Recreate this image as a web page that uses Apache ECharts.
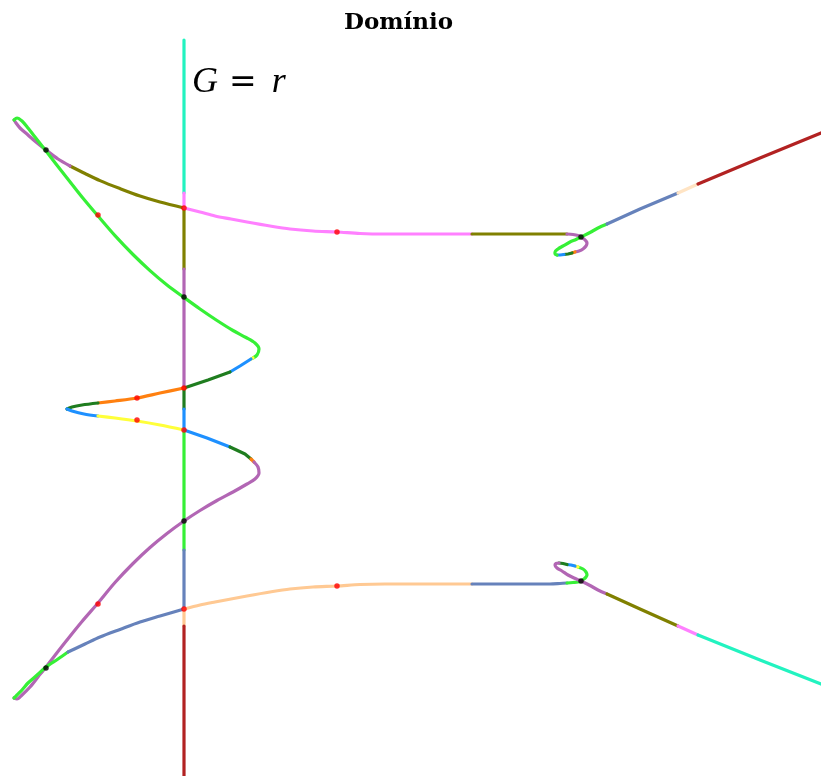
<!DOCTYPE html>
<html>
<head>
<meta charset="utf-8">
<style>
  html, body { margin: 0; padding: 0; background: #ffffff; }
  #chart { width: 821px; height: 776px; }
</style>
<script src="https://cdn.jsdelivr.net/npm/echarts@6/dist/echarts.min.js"></script>
</head>
<body>
<div id="chart"></div>
<script>
// Branches of the curve, in plot units (x to the right, y downward).
// Vertical branch along x = 184
const vCyan    = [[184,40],[184,193]];
const vPink    = [[184,193],[184,208]];
const vOlive   = [[184,208],[184,269]];
const vPurple  = [[184,269],[184,388]];
const vDkGreen = [[184,388],[184,409]];
const vBlue    = [[184,409],[184,430]];
const vGreen   = [[184,430],[184,550]];
const vSlate   = [[184,550],[184,609]];
const vPeach   = [[184,609],[184,626]];
const vBrick   = [[184,626],[184,776]];

// Upper-left loop
const ulOlive  = [[184,208],[160,202],[140,196],[120,188.6],[100,180.6],[85,173.5],[70,166]];
const ulPurple = [[70,166],[58,159],[46,150],[36,142],[28,135],[20,128],[16,123],[14,120]];
const ulGreen  = [[14,120],[17,118],[22,121],[28,128],[35,137],[46,151],[56,164],[67,178],[82,197],[98,216],[115,235.6],[133,254.5],[150,270.6],[167,285],[184,297.5],[200,309],[217,320.5],[233,330.5],[246,337.5],[255,343],[259,349],[257,355],[253,358]];
const ulYellow = [[253,358],[251,359]];
const ulBlue   = [[251,359],[240,366],[230,372]];
const ulDkGreen= [[230,372],[208,380],[184,388]];

// Middle loop
const mOrange  = [[184,388],[160,393],[137,398],[115,401],[98,403]];
const mDkGreen = [[98,403],[82,405],[72,407],[67,409]];
const mBlue    = [[67,409],[72,411],[84,414],[98,416]];
const mYellow  = [[98,416],[115,418],[137,421],[160,425],[184,430]];

// Lower-left loop
const llBlue   = [[184,430],[207,438],[230,447]];
const llDkGreen= [[230,447],[245,454],[251,459]];
const llOrange = [[251,459],[254,462]];
const llPurple = [[254,462],[258,467],[259,473],[255,479],[247,484],[233,492],[217,500.5],[200,510.5],[184,521],[167,533.5],[150,547.5],[133,563.5],[115,582.5],[98,603],[82,621.5],[67,640],[56,654],[46,667],[38,677],[30,687],[22,695],[17,699],[14,698]];
const llGreen  = [[14,698],[17,695],[22,690],[28,683],[36,676],[46,667],[58,659],[68,652]];
const llSlate  = [[68,652],[85,644],[100,637],[120,629.4],[140,622],[160,616],[184,609]];

// Upper-right branch
const urPink   = [[184,208],[200,212],[215,216],[231,219],[247,222],[270,226],[290,229],[313,231],[337,232],[360,233.5],[385,234],[413,234],[440,234],[472,234]];
const urOlive  = [[472,234],[500,234],[530,234],[550,234],[567,234]];
const urPurple = [[567,234],[573,234.5],[578,235.5],[581,237],[584,239],[586,241],[587,243],[586,246],[583,249],[579,251],[575,252]];
const urOrange = [[575,252],[572,253]];
const urDkGreen= [[572,253],[568,254],[564,254.5]];
const urBlue   = [[564,254.5],[560,255],[557,255]];
const urGreen  = [[557,255],[555,254],[555,252],[558,249],[563,246],[570,242],[576,239.5],[581,237],[590,232.5],[598,228],[607,224]];
const urSlate  = [[607,224],[640,209],[678,193]];
const urBisque = [[678,193],[698,184]];
const urBrick  = [[698,184],[760,158],[821,133]];

// Lower-right branch
const lrPeach  = [[184,609],[200,605],[215,602],[231,599],[247,596],[270,592],[290,589],[313,587],[337,586],[360,584.5],[385,584],[413,584],[440,584],[472,584]];
const lrSlate  = [[472,584],[500,584],[530,584],[550,584],[560,583.5],[567,583]];
const lrGreen  = [[567,583],[573,582.5],[578,582],[581,581],[584,579],[586,577],[587,575],[586,572],[583,569],[578,567]];
const lrYellow = [[578,567],[575,566]];
const lrBlue   = [[575,566],[571,565],[567,564.5]];
const lrDkGreen= [[567,564.5],[563,563.5],[559,563]];
const lrPurple = [[559,563],[556,563.5],[555,565],[557,568],[562,571],[568,575],[574,578],[581,581],[590,585.5],[598,590],[607,594]];
const lrOlive  = [[607,594],[640,609],[678,626]];
const lrPink   = [[678,626],[698,635]];
const lrAqua   = [[698,635],[760,660],[821,684]];

// Marked points
const redPoints   = [[184,208],[98,215],[337,232],[184,388],[137,398],[137,420],[184,430],[98,604],[337,586],[184,609]];
const blackPoints = [[46,150],[184,297],[581,237],[184,521],[46,668],[581,581]];

// Palette
const C = {
  aqua: '#22f3c0', pink: '#ff80ff', olive: '#808000', purple: '#b266b4',
  green: '#36f036', dkgreen: '#1f7d1f', blue: '#1e90ff', yellow: '#ffff3a',
  orange: '#ff8010', slate: '#6682bb', peach: '#ffc993', bisque: '#ffe4c4',
  brick: '#b22222'
};

const branches = [
  [vCyan, C.aqua], [vPink, C.pink], [vOlive, C.olive], [vPurple, C.purple],
  [vDkGreen, C.dkgreen], [vBlue, C.blue], [vGreen, C.green], [vSlate, C.slate],
  [vPeach, C.peach], [vBrick, C.brick],
  [ulOlive, C.olive], [ulPurple, C.purple], [ulGreen, C.green], [ulYellow, C.yellow],
  [ulBlue, C.blue], [ulDkGreen, C.dkgreen],
  [mOrange, C.orange], [mDkGreen, C.dkgreen], [mBlue, C.blue], [mYellow, C.yellow],
  [llBlue, C.blue], [llDkGreen, C.dkgreen], [llOrange, C.orange], [llPurple, C.purple],
  [llGreen, C.green], [llSlate, C.slate],
  [urPink, C.pink], [urOlive, C.olive], [urPurple, C.purple], [urOrange, C.orange],
  [urDkGreen, C.dkgreen], [urBlue, C.blue], [urGreen, C.green], [urSlate, C.slate],
  [urBisque, C.bisque], [urBrick, C.brick],
  [lrPeach, C.peach], [lrSlate, C.slate], [lrGreen, C.green], [lrYellow, C.yellow],
  [lrBlue, C.blue], [lrDkGreen, C.dkgreen], [lrPurple, C.purple], [lrOlive, C.olive],
  [lrPink, C.pink], [lrAqua, C.aqua]
];

const series = branches.map(([pts, color]) => ({
  type: 'line',
  data: pts,
  smooth: pts.length > 3 ? 0.3 : false,
  smoothMonotone: null,
  showSymbol: false,
  silent: true,
  clip: false,
  lineStyle: { color: color, width: 3.2, cap: 'round', join: 'round' },
  z: 2
}));

series.push({
  type: 'scatter', data: redPoints, symbolSize: 5.5,
  itemStyle: { color: '#ff0000' }, silent: true, z: 5
});
series.push({
  type: 'scatter', data: blackPoints, symbolSize: 5.5,
  itemStyle: { color: '#000000' }, silent: true, z: 5
});

const chart = echarts.init(document.getElementById('chart'), null, { renderer: 'canvas' });
chart.setOption({
  animation: false,
  backgroundColor: '#ffffff',
  title: [
    {
      text: 'Domínio',
      left: 339, top: 7,
      textStyle: { fontFamily: 'DejaVu Serif', fontWeight: 'bold', fontSize: 23, color: '#000' }
    },
    {
      text: '{i|G}{s1|}{n|=}{s2|}{i|r}',
      left: 187, top: 60,
      textStyle: {
        fontWeight: 'normal',
        rich: {
          i: { fontFamily: 'Liberation Serif', fontStyle: 'italic', fontWeight: 'normal', fontSize: 36, color: '#000' },
          n: { fontFamily: 'DejaVu Serif', fontWeight: 'normal', fontSize: 33, color: '#000' },
          s1: { width: 11 },
          s2: { width: 15 }
        }
      }
    }
  ],
  grid: { left: 0, right: 0, top: 0, bottom: 0 },
  xAxis: { type: 'value', min: 0, max: 821, show: false },
  yAxis: { type: 'value', min: 0, max: 776, inverse: true, show: false },
  series: series
});
</script>
</body>
</html>
